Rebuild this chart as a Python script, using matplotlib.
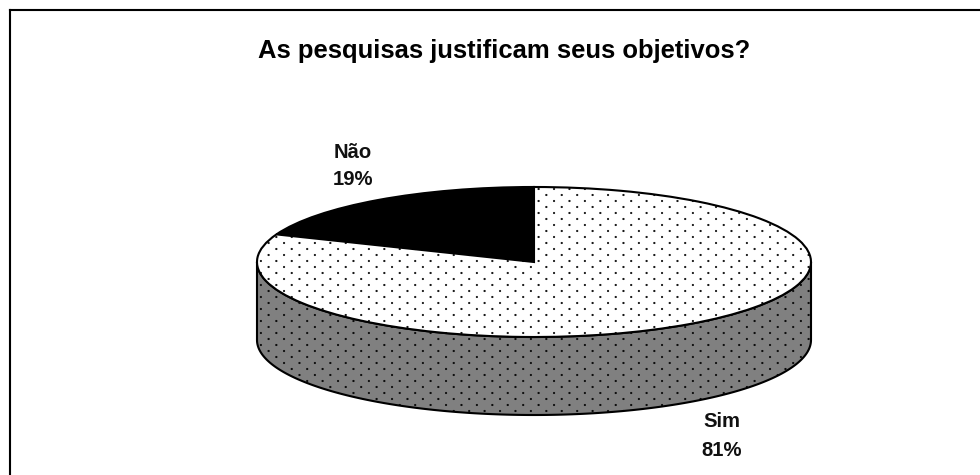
import numpy as np
import matplotlib
matplotlib.use("Agg")
import matplotlib.pyplot as plt
import matplotlib.hatch as mhatch
from matplotlib.path import Path

TITLE = "As pesquisas justificam seus objetivos?"
categories = ["Não", "Sim"]
values = [19, 81]

W, H, DPI = 980, 475, 108
CX, CY, RX, RY, DEPTH = 534, 262, 277, 75, 78


class StaggeredDots(mhatch.HatchPatternBase):
    """Staggered dot screen: 7 columns by 18 rows per hatch tile."""
    cols, rows, radius = 7, 18, 0.0085

    def __init__(self, hatch, density):
        self.on = "." in hatch
        self.circle = Path.unit_circle()
        n = self.cols * self.rows
        self.num_vertices = n * len(self.circle.vertices) if self.on else 0

    def set_vertices_and_codes(self, vertices, codes):
        k = len(self.circle.vertices)
        i = 0
        for r in range(self.rows):
            for c in range(self.cols):
                x = ((c + (0.5 if r % 2 else 0.0)) / self.cols + 0.13) % 1
                y = (r / self.rows + 0.0278) % 1
                vertices[i:i + k] = self.circle.vertices * self.radius + (x, y)
                codes[i:i + k] = self.circle.codes
                i += k


mhatch._hatch_types[:] = [StaggeredDots]
plt.rcParams["hatch.linewidth"] = 0.2
plt.rcParams["font.family"] = ["Liberation Sans", "DejaVu Sans"]

fig = plt.figure(figsize=(W / DPI, H / DPI), dpi=DPI, facecolor="white")

# Frame: only top and left rules are visible in the reference
frame = fig.add_axes([10 / W, 0, 1 - 10 / W, 1 - 10 / H])
frame.set_xticks([])
frame.set_yticks([])
for side in ("right", "bottom"):
    frame.spines[side].set_visible(False)
for side in ("top", "left"):
    frame.spines[side].set_linewidth(1.4)

# Pie axes: one data unit equals RX px horizontally and RY px vertically
x_lim = (-1.25, 1.25)
y_lim = (-1.25 - DEPTH / RY, 1.25)
ax_w = (x_lim[1] - x_lim[0]) * RX
ax_h = (y_lim[1] - y_lim[0]) * RY
ax_left = CX + x_lim[0] * RX
ax_top = CY - y_lim[1] * RY
ax = fig.add_axes([ax_left / W, 1 - (ax_top + ax_h) / H, ax_w / W, ax_h / H])
ax.patch.set_alpha(0)

t = np.linspace(np.pi, 2 * np.pi, 240)
ax.fill_between(np.cos(t), np.sin(t) - DEPTH / RY, np.sin(t),
                facecolor="#808080", edgecolor="black", linewidth=1.4,
                hatch=".", zorder=1)

wedges, _ = ax.pie(values, startangle=90, counterclock=True, radius=1,
                   colors=["black", "white"],
                   wedgeprops=dict(edgecolor="black", linewidth=1.4, zorder=2))
wedges[1].set_hatch(".")
ax.set_aspect("auto")
ax.set_xlim(*x_lim)
ax.set_ylim(*y_lim)
ax.axis("off")

label_pos = {"Não": (353, 158, 185), "Sim": (722, 427, 456)}
for cat, val in zip(categories, values):
    x, y1, y2 = label_pos[cat]
    fig.text(x / W, 1 - y1 / H, cat, ha="center", va="baseline",
             fontsize=13.5, fontweight="bold", color="#111111")
    fig.text(x / W, 1 - y2 / H, f"{val}%", ha="center", va="baseline",
             fontsize=13.5, fontweight="bold", color="#111111")

fig.text(504 / W, 1 - 58 / H, TITLE, ha="center", va="baseline",
         fontsize=17.1, fontweight="bold", color="black")

fig.savefig("out.png", dpi=DPI, facecolor="white")
